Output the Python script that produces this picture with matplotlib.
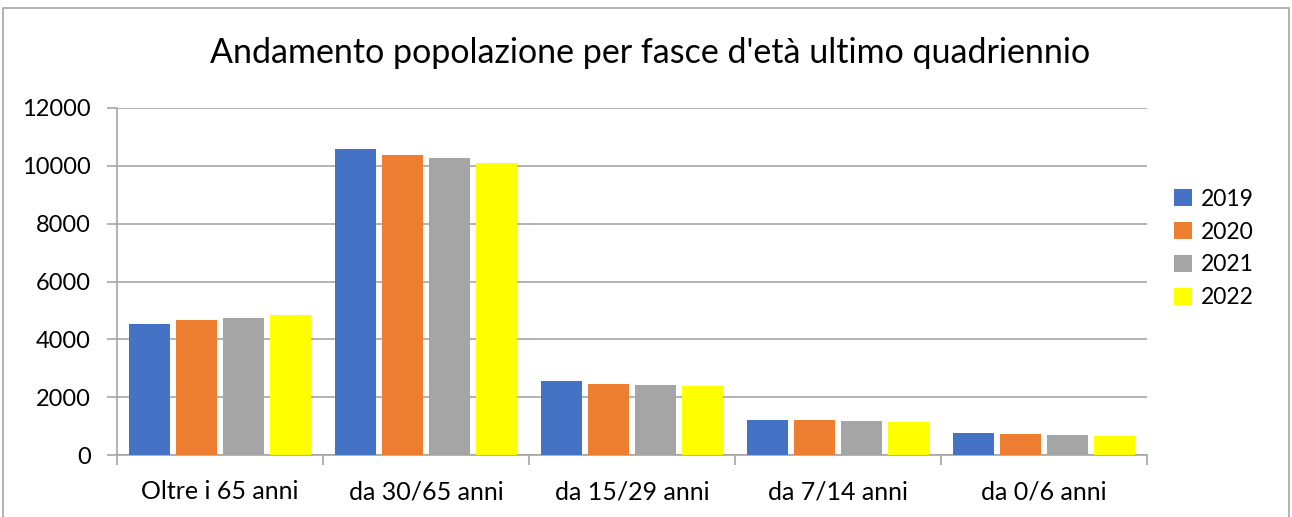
import numpy as np
import matplotlib.pyplot as plt
from matplotlib.patches import Rectangle

fasce = ['Oltre i 65 anni', 'da 30/65 anni', 'da 15/29 anni', 'da 7/14 anni', 'da 0/6 anni']
anni = ['2019', '2020', '2021', '2022']
v2019 = [4530, 10570, 2565, 1220, 760]
v2020 = [4670, 10370, 2440, 1195, 715]
v2021 = [4740, 10265, 2405, 1170, 680]
v2022 = [4830, 10095, 2380, 1130, 645]
colori = ['#4472C4', '#ED7D31', '#A5A5A5', '#FFFF00']

plt.rcParams['font.family'] = ['Lato', 'DejaVu Sans']

fig = plt.figure(figsize=(12.92, 5.17), dpi=100)
ax = fig.add_axes([117/1292, 1-455/517, (1147-117)/1292, (455-108)/517])

x = np.arange(len(fasce))
passo = 0.228
larg = 0.2
for i, (valori, anno) in enumerate(zip([v2019, v2020, v2021, v2022], anni)):
    ax.bar(x + (i-1.5)*passo, valori, width=larg, color=colori[i], label=anno, zorder=3)

ax.set_xlim(-0.5, 4.5)
ax.set_ylim(0, 12000)
ax.set_yticks(range(0, 12001, 2000))
ax.yaxis.grid(True, color='#A6A6A6', linewidth=1.2, zorder=0)
ax.set_xticks(x)
ax.set_xticklabels(fasce, fontsize=18)
ax.set_xticks(np.arange(-0.5, 5, 1), minor=True)
ax.tick_params(axis='x', which='major', length=0, pad=18)
ax.tick_params(axis='x', which='minor', length=7, color='#A6A6A6', width=1.2)
ax.tick_params(axis='y', labelsize=17, length=7, color='#A6A6A6', width=1.2, pad=12)
for lato in ['top', 'right']:
    ax.spines[lato].set_visible(False)
for lato in ['left', 'bottom']:
    ax.spines[lato].set_color('#A6A6A6')
    ax.spines[lato].set_linewidth(1.2)

fig.text(650/1292, 1-53/517, "Andamento popolazione per fasce d'età ultimo quadriennio",
         ha='center', va='center', fontsize=24.5)

fig.legend(loc='upper left', bbox_to_anchor=(1153/1292, 1-168/517), frameon=False,
           fontsize=16.5, handlelength=0.8, handleheight=0.8, handletextpad=0.4, labelspacing=0.52)

fig.patches.append(Rectangle((3/1292, -0.01), 1286/1292, 1-8/517+0.01, transform=fig.transFigure,
                             fill=False, edgecolor='#A6A6A6', linewidth=1.2))

fig.savefig('out.png', dpi=100)
